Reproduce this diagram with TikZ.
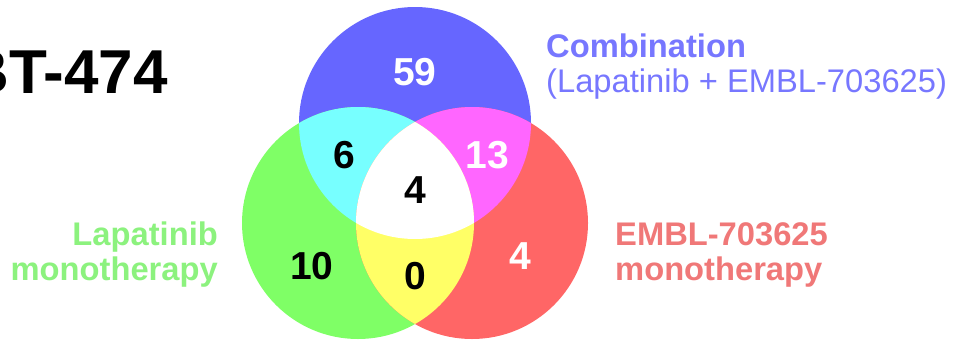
\documentclass[tikz,border=0pt]{standalone}
\usepackage{fontspec}
\setmainfont{Liberation Sans}
\definecolor{cblue}{HTML}{6666FF}
\definecolor{cgreen}{HTML}{7FFF66}
\definecolor{cred}{HTML}{FF6666}
\definecolor{ccyan}{HTML}{77FFFF}
\definecolor{cmag}{HTML}{FF66FF}
\definecolor{cyel}{HTML}{FFFF66}
\definecolor{tblue}{HTML}{7777FF}
\definecolor{tgreen}{HTML}{8CF27E}
\definecolor{tred}{HTML}{F07878}
\tikzset{
  num/.style={inner sep=0pt, font=\fontsize{39}{39}\selectfont\bfseries},
  lab/.style={inner sep=0pt, font=\fontsize{32.7}{35}\selectfont\bfseries},
  labreg/.style={inner sep=0pt, font=\fontsize{32.7}{35}\selectfont},
}
\begin{document}
\begin{tikzpicture}[x=1pt,y=-1pt]
\useasboundingbox (0,0) rectangle (953,340);
\coordinate (B) at (415,123);
\coordinate (G) at (358,223);
\coordinate (R) at (472,223);
\def\rr{116}
\fill[cblue] (B) circle (\rr);
\fill[cgreen] (G) circle (\rr);
\fill[cred] (R) circle (\rr);
\begin{scope}\clip (B) circle (\rr); \fill[ccyan] (G) circle (\rr); \end{scope}
\begin{scope}\clip (B) circle (\rr); \fill[cmag] (R) circle (\rr); \end{scope}
\begin{scope}\clip (G) circle (\rr); \fill[cyel] (R) circle (\rr); \end{scope}
\begin{scope}\clip (B) circle (\rr); \clip (G) circle (\rr); \fill[white] (R) circle (\rr); \end{scope}

\node[num, text=white] (n59) at (415,72) {59};
\node[num, text=black] (n6) at (344,155) {6};
\node[num, text=white] (n13) at (487,155) {13};
\node[num, text=black] (n4c) at (415,190) {4};
\node[num, text=black] (n10) at (312,266) {10};
\node[num, text=black] (n0) at (415,276) {0};
\node[num, text=white] (n4r) at (520,256) {4};

\node[inner sep=0pt, anchor=base east, font=\fontsize{62}{62}\selectfont\bfseries] (title) at (168,93) {BT-474};

\node[lab, text=tblue, anchor=base west] (comb1) at (546,57) {Combination};
\node[labreg, text=tblue, anchor=base west] (comb2) at (546,92) {(Lapatinib + EMBL-703625)};

\node[lab, text=tgreen, anchor=base east] (lap1) at (218,245) {Lapatinib};
\node[lab, text=tgreen, anchor=base east] (lap2) at (218,280) {monotherapy};

\node[lab, text=tred, anchor=base west] (embl1) at (615,245) {EMBL-703625};
\node[lab, text=tred, anchor=base west] (embl2) at (615,280) {monotherapy};
\end{tikzpicture}
\end{document}
